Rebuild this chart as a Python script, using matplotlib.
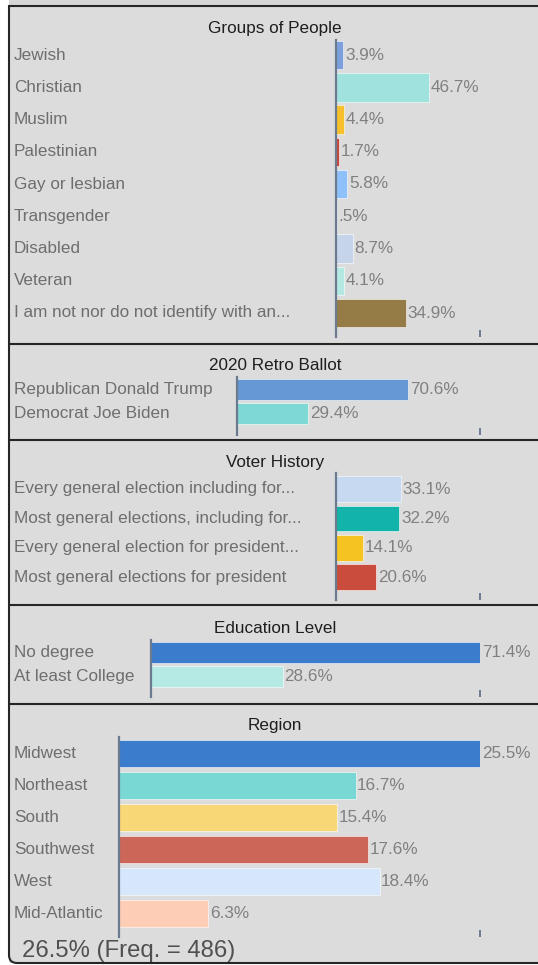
import matplotlib
matplotlib.use("Agg")
import matplotlib.pyplot as plt
from matplotlib.lines import Line2D
from matplotlib.patches import Rectangle, PathPatch
from matplotlib.path import Path
from matplotlib.transforms import blended_transform_factory

# ---------------- data ----------------
groups_title = "Groups of People"
groups_labels = ["Jewish", "Christian", "Muslim", "Palestinian", "Gay or lesbian",
                 "Transgender", "Disabled", "Veteran",
                 "I am not nor do not identify with an..."]
groups_values = [3.9, 46.7, 4.4, 1.7, 5.8, 0.5, 8.7, 4.1, 34.9]

ballot_title = "2020 Retro Ballot"
ballot_labels = ["Republican Donald Trump", "Democrat Joe Biden"]
ballot_values = [70.6, 29.4]

voter_title = "Voter History"
voter_labels = ["Every general election including for...",
                "Most general elections, including for...",
                "Every general election for president...",
                "Most general elections for president"]
voter_values = [33.1, 32.2, 14.1, 20.6]

edu_title = "Education Level"
edu_labels = ["No degree", "At least College"]
edu_values = [71.4, 28.6]

region_title = "Region"
region_labels = ["Midwest", "Northeast", "South", "Southwest", "West", "Mid-Atlantic"]
region_values = [25.5, 16.7, 15.4, 17.6, 18.4, 6.3]

footer_text = "26.5% (Freq. = 486)"

# ---------------- style ----------------
groups_colors = ["#7ba0db", "#a0e2de", "#f5c02c", "#c9463d", "#8ec1fa",
                 "#b9a6e0", "#c5d4e8", "#b4e8e2", "#957b45"]
ballot_colors = ["#6798d6", "#7ed9d4"]
voter_colors = ["#c7d9f0", "#12b3a8", "#f5c322", "#c94c3d"]
edu_colors = ["#3c7ccc", "#b4e9e4"]
region_colors = ["#3c7ccc", "#79d8d3", "#f8d777", "#cc6659", "#d6e7fb", "#fdcdb6"]

W, H = 538, 965
BG = "#dcdcdc"
AXC = "#6b7b8f"
LABC = "#6e6e6e"
VALC = "#808080"
TITC = "#1e1e1e"
FONT = "Liberation Sans"
FS = 12.3
RIGHT_X = 480

def fx(x):
    return x / W

def fy(y):
    return 1 - y / H

fig = plt.figure(figsize=(W / 100, H / 100), dpi=100, facecolor="white")

# background
fig.add_artist(Rectangle((fx(9), fy(963)), fx(W) - fx(9), fy(6) - fy(963),
                         transform=fig.transFigure, facecolor=BG, edgecolor="none", zorder=0))
fig.add_artist(Rectangle((fx(9), fy(5)), fx(W) - fx(9), fy(0) - fy(5),
                         transform=fig.transFigure, facecolor="#d6d6d6", edgecolor="none", zorder=0))

def fline(xs, ys, lw=1.5, color="#262626"):
    fig.add_artist(Line2D([fx(x) for x in xs], [fy(y) for y in ys],
                          transform=fig.transFigure, color=color, lw=lw, zorder=5,
                          solid_capstyle="butt"))

# top border and separators
fline([8, W], [6, 6])
for ysep in [344, 440, 605, 704]:
    fline([9, W], [ysep, ysep])

# left + bottom border with rounded corner
verts = [(fx(9), fy(5)), (fx(9), fy(955)), (fx(9), fy(963)), (fx(17), fy(963)), (fx(W), fy(963))]
codes = [Path.MOVETO, Path.LINETO, Path.CURVE3, Path.CURVE3, Path.LINETO]
fig.add_artist(PathPatch(Path(verts, codes), transform=fig.transFigure, facecolor="none",
                         edgecolor="#262626", lw=1.5, zorder=5))

panels = [
    # title, labels, values, colors, axis_x, xmax, y_top, y_bot, first_center, spacing, bar_h, title_y
    (groups_title, groups_labels, groups_values, groups_colors, 335.5, 72, 40, 337, 55, 32.25, 28.5, 28),
    (ballot_title, ballot_labels, ballot_values, ballot_colors, 236.5, 100, 377, 435, 389.7, 23.7, 21, 365),
    (voter_title, voter_labels, voter_values, voter_colors, 335.5, 73, 473, 600, 489, 29.4, 25.7, 462.5),
    (edu_title, edu_labels, edu_values, edu_colors, 151, 71.4, 640, 697, 652.5, 24, 21, 628.5),
    (region_title, region_labels, region_values, region_colors, 119.3, 25.5, 737, 937, 753.3, 32, 27.3, 725.5),
]

def fmt(v):
    s = f"{v:.1f}%"
    if s.startswith("0."):
        s = s[1:]
    return s

for (title, labels, values, colors, ax_x, xmax, y0, y1, c0, sp, bh, ty) in panels:
    ax = fig.add_axes([fx(ax_x), fy(y1), fx(RIGHT_X) - fx(ax_x), fy(y0) - fy(y1)])
    ax.set_facecolor("none")
    n = len(values)
    ax.set_xlim(0, xmax)
    ax.set_ylim((y1 - c0) / sp, (y0 - c0) / sp)
    ax.barh(range(n), values, height=bh / sp, color=colors, edgecolor="white",
            linewidth=0.4, zorder=2)
    for s in ["top", "right", "bottom"]:
        ax.spines[s].set_visible(False)
    ax.spines["left"].set_color(AXC)
    ax.spines["left"].set_linewidth(1.6)
    ax.spines["left"].set_zorder(3)
    ax.set_yticks([])
    ax.set_xticks([xmax])
    ax.tick_params(axis="x", direction="in", length=5, width=1.4, color=AXC,
                   labelbottom=False)
    tr = blended_transform_factory(fig.transFigure, ax.transData)
    for i, (lab, v) in enumerate(zip(labels, values)):
        ax.text(fx(14), i, lab, transform=tr, ha="left", va="center",
                fontsize=FS, color=LABC, family=FONT)
        ax.annotate(fmt(v), (v, i), xytext=(1.2, 0), textcoords="offset points",
                    ha="left", va="center", fontsize=FS, color=VALC, family=FONT,
                    annotation_clip=False)
    fig.text(fx(275), fy(ty), title, ha="center", va="center", fontsize=FS,
             color=TITC, family=FONT)

fig.text(fx(22), fy(951), footer_text, ha="left", va="center", fontsize=17.2,
         color="#505050", family=FONT)

fig.savefig("out.png", dpi=100, facecolor="white")
